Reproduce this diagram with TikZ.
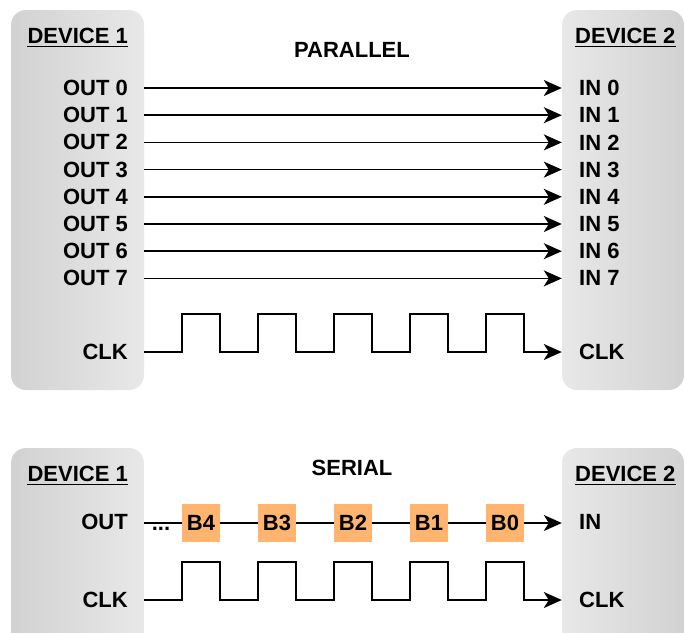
\documentclass[tikz,border=0pt]{standalone}
\usepackage{fontspec}
\setmainfont{Liberation Sans}
\usetikzlibrary{arrows.meta}
\definecolor{BoxLight}{RGB}{232,232,232}
\definecolor{BoxDark}{RGB}{210,210,210}
\definecolor{BitOrange}{RGB}{255,181,112}

\begin{document}
\begin{tikzpicture}[x=1pt,y=-1pt,
	device/.style={rounded corners=15pt,inner sep=0pt},
	lbl/.style={font=\fontsize{22}{24}\selectfont\bfseries,inner sep=0pt},
	bit/.style={lbl,fill=BitOrange,minimum size=38pt},
	wire/.style={line width=1.6pt},
	arr/.style={wire,-{Stealth[length=18pt,width=16pt,inset=5pt]}}]
\clip (0,0) rectangle (685,632);
% device boxes
\node[device,minimum width=133pt,minimum height=380pt,left color=BoxDark,right color=BoxLight] (D1) at (77.5,200){};
\node[device,minimum width=122pt,minimum height=380pt,left color=BoxLight,right color=BoxDark] (D2) at (623,200){};
\node[device,minimum width=133pt,minimum height=220pt,left color=BoxDark,right color=BoxLight] (D3) at (77.5,558){};
\node[device,minimum width=122pt,minimum height=220pt,left color=BoxLight,right color=BoxDark] (D4) at (623,558){};
% titles
\foreach \n/\t/\x/\y/\a in {T1/DEVICE 1/128/43/base east,T2/DEVICE 2/575/43/base west,
	T3/DEVICE 1/128/481/base east,T4/DEVICE 2/575/481/base west}{
	\node[lbl,anchor=\a] (\n) at (\x,\y){\t};
	\draw[line width=1.4pt] ([yshift=-3.5pt]\n.base west) -- ([yshift=-3.5pt]\n.base east);}
\node[lbl,anchor=base] (par) at (352,57){PARALLEL};
\node[lbl,anchor=base] (ser) at (352,475){SERIAL};
% parallel
\foreach \i in {0,...,7}{
	\node[lbl,anchor=east] (O\i) at (128,88+27.2*\i){OUT \i};
	\node[lbl,anchor=west] (I\i) at (579,88+27.2*\i){IN \i};
	\draw[arr] (D1.east |- O\i) -- (D2.west |- I\i);}
\node[lbl,anchor=east] (C1) at (128,352){CLK};
\node[lbl,anchor=west] (C2) at (579,352){CLK};
\draw[arr] (D1.east |- C1) \foreach \k in {1,...,5}{ -- ++(38,0) -- ++(0,-38) -- ++(38,0) -- ++(0,38)} -- (D2.west |- C2);
% serial
\node[lbl,anchor=east] (O8) at (128,522){OUT};
\node[lbl,anchor=west] (I8) at (579,522){IN};
\node[lbl,anchor=base] (dots) at (161,530){...};
\foreach \b/\x in {4/201,3/277,2/353,1/429,0/505}\node[bit] (B\b) at (\x,523){B\b};
\draw[line width=1.2pt] (D3.east |- B4) -- (B4);
\foreach \a/\b in {4/3,3/2,2/1,1/0}\draw[line width=1.2pt] (B\a) -- (B\b);
\draw[arr,line width=1.2pt] (B0) -- (D4.west |- B0);
\node[lbl,anchor=east] (C3) at (128,600){CLK};
\node[lbl,anchor=west] (C4) at (579,600){CLK};
\draw[arr] (D3.east |- C3) \foreach \k in {1,...,5}{ -- ++(38,0) -- ++(0,-38) -- ++(38,0) -- ++(0,38)} -- (D4.west |- C4);
\end{tikzpicture}
\end{document}
